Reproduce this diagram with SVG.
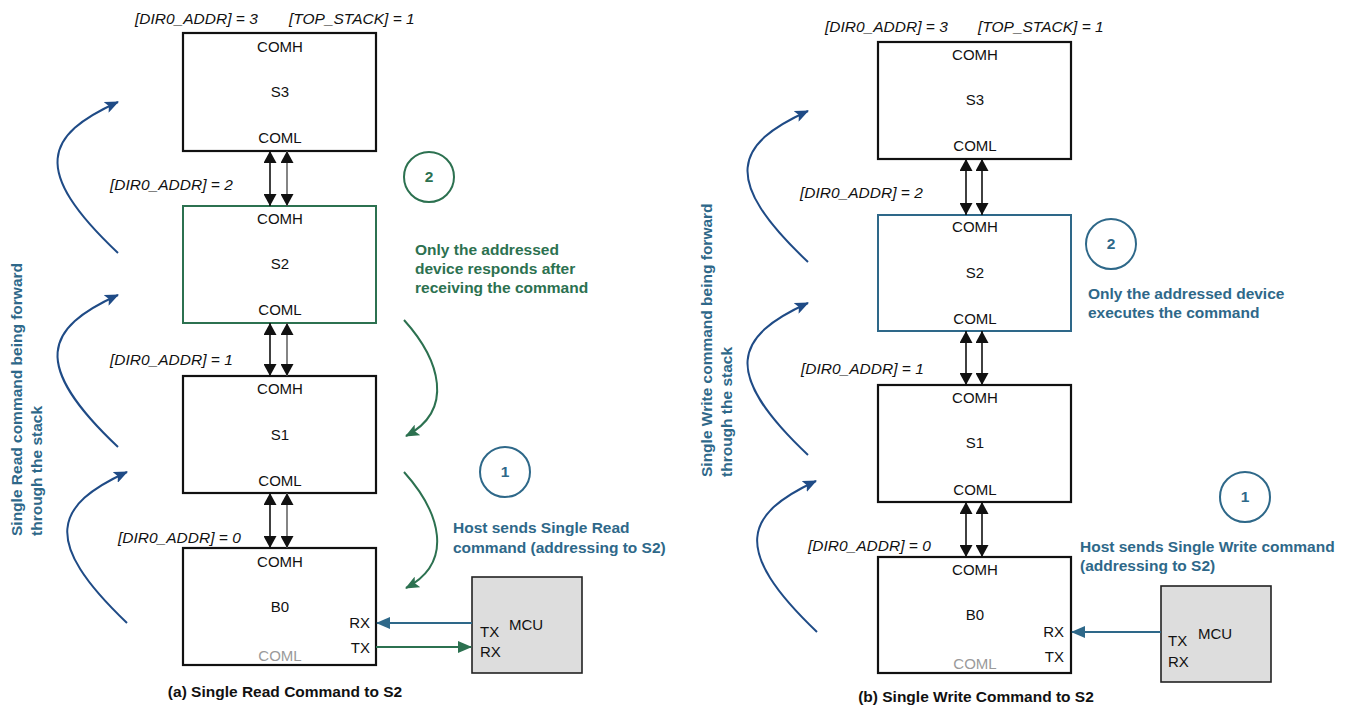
<svg xmlns="http://www.w3.org/2000/svg" width="1353" height="707" viewBox="0 0 1353 707">
<style>
text{font-family:"Liberation Sans",Arial,Helvetica,sans-serif;font-size:15px;fill:#111}
.c{text-anchor:middle}
.e{text-anchor:end}
.it{font-style:italic;font-size:15.5px}
.b{font-weight:bold;font-size:15.5px}
.g{fill:#2c7150}
.bl{fill:#2e6889}
.gray{fill:#9a9a9a}
.box{fill:#fff;stroke:#111;stroke-width:2.2}
.boxg{fill:#fff;stroke:#2c7150;stroke-width:2}
.boxb{fill:#fff;stroke:#2e6889;stroke-width:2}
.mcu{fill:#dddddd;stroke:#222;stroke-width:1.6}
.dbl{stroke:#111;stroke-width:1.6;fill:none;marker-start:url(#ab);marker-end:url(#ab)}
.dblg{stroke:#666;stroke-width:1.6;fill:none;marker-start:url(#ab);marker-end:url(#ab)}
.navy{stroke:#1f4b86;stroke-width:2;fill:none;marker-end:url(#an)}
.gc{stroke:#2c7150;stroke-width:2;fill:none;marker-end:url(#ag)}
.bc{stroke:#2e6889;stroke-width:2;fill:none;marker-end:url(#abl)}
.circg{fill:none;stroke:#2c7150;stroke-width:2}
.circb{fill:none;stroke:#2e6889;stroke-width:2}
</style>
<defs>
<marker id="ab" viewBox="0 0 12 13" refX="12" refY="6.5" markerWidth="12" markerHeight="13" markerUnits="userSpaceOnUse" orient="auto-start-reverse"><path d="M0,0 L12,6.5 L0,13 z" fill="#111"/></marker>
<marker id="an" viewBox="0 0 14 12" refX="13" refY="6" markerWidth="14" markerHeight="12" markerUnits="userSpaceOnUse" orient="auto"><path d="M0,0 L14,6 L0,12 L3,6 z" fill="#1f4b86"/></marker>
<marker id="ag" viewBox="0 0 14 12" refX="13" refY="6" markerWidth="14" markerHeight="12" markerUnits="userSpaceOnUse" orient="auto"><path d="M0,0 L14,6 L0,12 L3,6 z" fill="#2c7150"/></marker>
<marker id="abl" viewBox="0 0 14 12" refX="13" refY="6" markerWidth="14" markerHeight="12" markerUnits="userSpaceOnUse" orient="auto"><path d="M0,0 L14,6 L0,12 z" fill="#2e6889"/></marker>
<marker id="agl" viewBox="0 0 14 12" refX="13" refY="6" markerWidth="14" markerHeight="12" markerUnits="userSpaceOnUse" orient="auto"><path d="M0,0 L14,6 L0,12 z" fill="#2c7150"/></marker>
</defs>

<!-- ===== Panel (a) ===== -->
<g id="a-labels">
<text class="it" x="135" y="24">[DIR0_ADDR] = 3</text>
<text class="it" x="289" y="24">[TOP_STACK] = 1</text>
<text class="it" x="110" y="190">[DIR0_ADDR] = 2</text>
<text class="it" x="110" y="365">[DIR0_ADDR] = 1</text>
<text class="it" x="118" y="543">[DIR0_ADDR] = 0</text>
<text class="b bl" transform="translate(22,536) rotate(-90)">Single Read command being forward</text>
<text class="b bl" transform="translate(42,536) rotate(-90)">through the stack</text>
<text class="b g" x="415" y="255">Only the addressed</text>
<text class="b g" x="415" y="274">device responds after</text>
<text class="b g" x="415" y="293">receiving the command</text>
<text class="b bl" x="453" y="533">Host sends Single Read</text>
<text class="b bl" x="453" y="553">command (addressing to S2)</text>
<text class="b c" x="285" y="697">(a) Single Read Command to S2</text>
</g>
<g id="a-step2"><circle class="circg" cx="429" cy="177" r="25"/><text class="b g c" x="429" y="182">2</text></g>
<g id="a-step1"><circle class="circb" cx="505" cy="472" r="25"/><text class="b bl c" x="505" y="477">1</text></g>
<g id="a-S3"><rect class="box" x="183" y="33" width="193" height="118"/><text class="c" x="280" y="52">COMH</text><text class="c" x="280" y="97">S3</text><text class="c" x="280" y="143">COML</text></g>
<g id="a-S2"><rect class="boxg" x="183" y="206" width="193" height="117"/><text class="c" x="280" y="224">COMH</text><text class="c" x="280" y="269">S2</text><text class="c" x="280" y="315">COML</text></g>
<g id="a-S1"><rect class="box" x="183" y="376" width="193" height="117"/><text class="c" x="280" y="394">COMH</text><text class="c" x="280" y="440">S1</text><text class="c" x="280" y="486">COML</text></g>
<g id="a-B0"><rect class="box" x="183" y="548" width="193" height="117"/><text class="c" x="280" y="567">COMH</text><text class="c" x="280" y="612">B0</text><text class="c gray" x="280" y="661">COML</text><text class="e" x="370" y="628">RX</text><text class="e" x="370" y="653">TX</text></g>
<g id="a-MCU"><rect class="mcu" x="472" y="577" width="110" height="96"/><text x="509" y="630">MCU</text><text x="480" y="637">TX</text><text x="480" y="657">RX</text></g>

<!-- ===== Panel (b) ===== -->
<g id="b-labels">
<text class="it" x="825" y="32">[DIR0_ADDR] = 3</text>
<text class="it" x="978" y="32">[TOP_STACK] = 1</text>
<text class="it" x="800" y="198">[DIR0_ADDR] = 2</text>
<text class="it" x="801" y="374">[DIR0_ADDR] = 1</text>
<text class="it" x="808" y="551">[DIR0_ADDR] = 0</text>
<text class="b bl" transform="translate(712,477) rotate(-90)">Single Write command being forward</text>
<text class="b bl" transform="translate(732,477) rotate(-90)">through the stack</text>
<text class="b bl" x="1088" y="299">Only the addressed device</text>
<text class="b bl" x="1088" y="318">executes the command</text>
<text class="b bl" x="1080" y="552">Host sends Single Write command</text>
<text class="b bl" x="1080" y="571">(addressing to S2)</text>
<text class="b c" x="976" y="702">(b) Single Write Command to S2</text>
</g>
<g id="b-step2"><circle class="circb" cx="1111" cy="244" r="25"/><text class="b bl c" x="1111" y="249">2</text></g>
<g id="b-step1"><circle class="circb" cx="1245" cy="497" r="25"/><text class="b bl c" x="1245" y="502">1</text></g>
<g id="b-S3"><rect class="box" x="878" y="42" width="193" height="117"/><text class="c" x="975" y="60">COMH</text><text class="c" x="975" y="105">S3</text><text class="c" x="975" y="151">COML</text></g>
<g id="b-S2"><rect class="boxb" x="878" y="215" width="193" height="116"/><text class="c" x="975" y="232">COMH</text><text class="c" x="975" y="278">S2</text><text class="c" x="975" y="324">COML</text></g>
<g id="b-S1"><rect class="box" x="878" y="385" width="193" height="117"/><text class="c" x="975" y="403">COMH</text><text class="c" x="975" y="448">S1</text><text class="c" x="975" y="495">COML</text></g>
<g id="b-B0"><rect class="box" x="878" y="557" width="193" height="116"/><text class="c" x="975" y="575">COMH</text><text class="c" x="975" y="620">B0</text><text class="c gray" x="975" y="669">COML</text><text class="e" x="1064" y="637">RX</text><text class="e" x="1064" y="662">TX</text></g>
<g id="b-MCU"><rect class="mcu" x="1161" y="586" width="110" height="96"/><text x="1198" y="639">MCU</text><text x="1168" y="646">TX</text><text x="1168" y="667">RX</text></g>

<!-- ===== Connectors ===== -->
<g id="connectors">
<line class="dbl" x1="270" y1="151" x2="270" y2="206"/>
<line class="dblg" x1="287" y1="151" x2="287" y2="206"/>
<line class="dbl" x1="270" y1="323" x2="270" y2="376"/>
<line class="dblg" x1="287" y1="323" x2="287" y2="376"/>
<line class="dbl" x1="270" y1="493" x2="270" y2="548"/>
<line class="dblg" x1="287" y1="493" x2="287" y2="548"/>
<line class="dbl" x1="966" y1="159" x2="966" y2="215"/>
<line class="dbl" x1="982" y1="159" x2="982" y2="215"/>
<line class="dbl" x1="966" y1="331" x2="966" y2="385"/>
<line class="dbl" x1="982" y1="331" x2="982" y2="385"/>
<line class="dbl" x1="966" y1="502" x2="966" y2="557"/>
<line class="dbl" x1="982" y1="502" x2="982" y2="557"/>

<path class="navy" d="M118,253 C30,170 45,135 118,102"/>
<path class="navy" d="M118,447 C30,364 45,328 118,295"/>
<path class="navy" d="M127,623 C40,540 55,505 127,472"/>
<path class="navy" d="M808,262 C720,179 735,144 808,111"/>
<path class="navy" d="M808,455 C720,372 735,336 808,303"/>
<path class="navy" d="M817,632 C730,549 745,514 816,481"/>

<path class="gc" d="M404,320 C440,360 455,410 406,436"/>
<path class="gc" d="M404,472 C440,512 455,562 406,588"/>

<line class="bc" x1="472" y1="623" x2="377" y2="623"/>
<line x1="376" y1="647" x2="471" y2="647" stroke="#2c7150" stroke-width="2" marker-end="url(#agl)"/>
<line class="bc" x1="1161" y1="632" x2="1072" y2="632"/>
</g>
</svg>
